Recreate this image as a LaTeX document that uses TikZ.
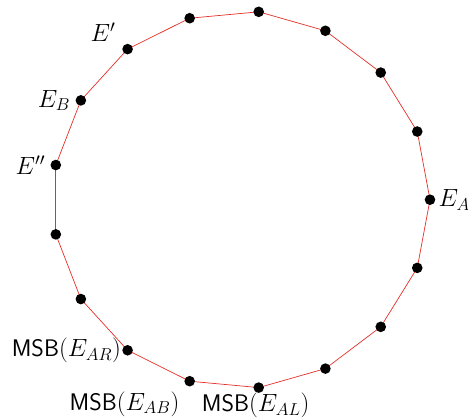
\documentclass[tikz,border=0pt]{standalone}
\usetikzlibrary{positioning}
\definecolor{edgered}{RGB}{228,48,40}
\begin{document}
\begin{tikzpicture}[x=1pt,y=-1pt,
  vtx/.style={circle,fill=black,inner sep=0pt,minimum size=10.6pt},
  edge/.style={draw=edgered,line width=0.7pt},
  lab/.style={font=\fontsize{24}{28}\selectfont,inner sep=1pt}]
\useasboundingbox (0,0) rectangle (468,418);
\foreach \k in {0,...,16}{
  \coordinate (c\k) at ({241.3+188.7*cos(\k*360/17)},{199.7-188.7*sin(\k*360/17)});
}
\foreach \k [evaluate=\k as \n using {int(mod(\k+1,17))}] in {0,...,16}{
  \draw[edge] (c\k) -- (c\n);
}
\foreach \k in {0,...,16}{
  \node[vtx] (v\k) at (c\k) {};
}
\node[lab,right=2pt of v0] (lA) {$E_A$};
\node[lab,anchor=south east] (lP) at ([xshift=-11pt,yshift=6pt]v6.center) {$E'$};
\node[lab,left=4pt of v7] (lB) {$E_B$};
\node[lab,left=4pt of v8] (lPP) {$E''$};
\node[lab,left=0pt of v11] (lAR) {\textsf{MSB}$(E_{AR})$};
\node[lab,anchor=north east] (lAB) at ([xshift=-9pt,yshift=-9pt]v12.center) {\textsf{MSB}$(E_{AB})$};
\node[lab,below=-1.5pt of v13,xshift=-3pt] (lAL) {\textsf{MSB}$(E_{AL})$};
\end{tikzpicture}
\end{document}
